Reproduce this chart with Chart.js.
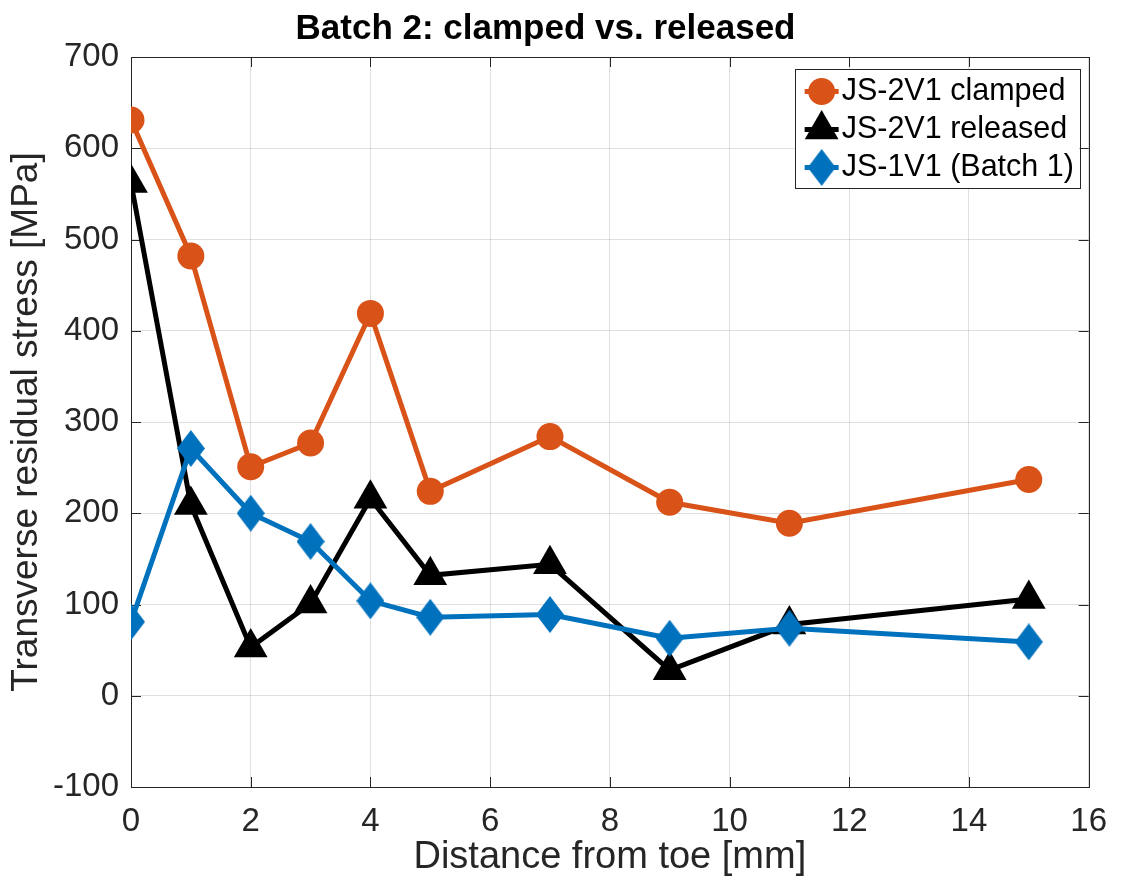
<!DOCTYPE html>
<html>
<head>
<meta charset="utf-8">
<script src="https://cdn.jsdelivr.net/npm/chart.js@4.4.0/dist/chart.umd.min.js"></script>
<style>
    html, body { margin: 0; padding: 0; background: #fff; }
    #wrap { width: 1122px; height: 883px; position: relative; }
</style>
</head>
<body>
<div id="wrap"><canvas id="myChart"></canvas></div>
<script>
// valeurs
const distances = [0, 1, 2, 3, 4, 5, 7, 9, 11, 15];
const clamped = [631, 482, 251, 277, 419, 224, 284, 212, 189, 237];
const released = [562, 209, 53, 101, 216, 132, 144, 28, 78, 106];
const batch1 = [81, 271, 200, 169, 104, 86, 89, 63, 74, 59];
const seriesLabels = ['JS-2V1 clamped', 'JS-2V1 released', 'JS-1V1 (Batch 1)'];
const xTicks = [0, 2, 4, 6, 8, 10, 12, 14, 16];
const yTicks = [-100, 0, 100, 200, 300, 400, 500, 600, 700];

const ORANGE = '#D95319';
const BLACK = '#000000';
const BLUE = '#0072BD';
const AXIS = '#262626';
const FONT = "'Liberation Sans', Arial, sans-serif";

// losange plus haut que large, comme celui de matlab
function makeDiamond(w, h, color) {
    const c = document.createElement('canvas');
    c.width = w;
    c.height = h;
    const g = c.getContext('2d');
    g.fillStyle = color;
    g.beginPath();
    g.moveTo(w / 2, 0);
    g.lineTo(w, h / 2);
    g.lineTo(w / 2, h);
    g.lineTo(0, h / 2);
    g.closePath();
    g.fill();
    return c;
}
const diamond = makeDiamond(28, 37, BLUE);

const toPoints = ys => ys.map((y, i) => ({x: distances[i], y: y}));

// cadre + petites graduations vers l'intérieur
const framePlugin = {
    id: 'frame',
    beforeDatasetsDraw(chart) {
        const {ctx, chartArea: a, scales} = chart;
        ctx.save();
        ctx.strokeStyle = AXIS;
        ctx.lineWidth = 1;
        ctx.strokeRect(Math.round(a.left) + 0.5, Math.round(a.top) + 0.5,
            Math.round(a.right - a.left), Math.round(a.bottom - a.top));
        ctx.beginPath();
        xTicks.forEach(v => {
            const px = Math.round(scales.x.getPixelForValue(v)) + 0.5;
            ctx.moveTo(px, a.bottom); ctx.lineTo(px, a.bottom - 10);
            ctx.moveTo(px, a.top); ctx.lineTo(px, a.top + 10);
        });
        yTicks.forEach(v => {
            const py = Math.round(scales.y.getPixelForValue(v)) + 0.5;
            ctx.moveTo(a.left, py); ctx.lineTo(a.left + 10, py);
            ctx.moveTo(a.right, py); ctx.lineTo(a.right - 10, py);
        });
        ctx.stroke();
        ctx.restore();
    }
};

// légende dans le coin haut droit, avec trait + marqueur
const legendPlugin = {
    id: 'matlabLegend',
    afterDraw(chart) {
        const {ctx, chartArea: a} = chart;
        const boxW = 285, boxH = 119;
        const bx = a.right - 9 - boxW;
        const by = a.top + 12;
        ctx.save();
        ctx.fillStyle = '#fff';
        ctx.fillRect(bx, by, boxW, boxH);
        ctx.strokeStyle = AXIS;
        ctx.lineWidth = 1;
        ctx.strokeRect(Math.round(bx) + 0.5, Math.round(by) + 0.5, boxW, boxH);

        const order = [2, 1, 0]; // datasets : batch1, released, clamped
        order.forEach((di, row) => {
            const ds = chart.data.datasets[di];
            const cy = by + 22.5 + row * 38;
            const mx = bx + 27;
            ctx.strokeStyle = ds.borderColor;
            ctx.lineWidth = 5;
            ctx.beginPath();
            ctx.moveTo(bx + 10, cy);
            ctx.lineTo(bx + 44, cy);
            ctx.stroke();
            ctx.fillStyle = ds.borderColor;
            if (ds.pointStyle === 'circle') {
                ctx.beginPath();
                ctx.arc(mx, cy, 13.5, 0, Math.PI * 2);
                ctx.fill();
            } else if (ds.pointStyle === 'triangle') {
                const r = ds.pointRadius;
                ctx.beginPath();
                ctx.moveTo(mx, cy - r);
                ctx.lineTo(mx + r * Math.sin(2 * Math.PI / 3), cy + r / 2);
                ctx.lineTo(mx - r * Math.sin(2 * Math.PI / 3), cy + r / 2);
                ctx.closePath();
                ctx.fill();
            } else {
                ctx.drawImage(ds.pointStyle, mx - ds.pointStyle.width / 2, cy - ds.pointStyle.height / 2);
            }
            ctx.fillStyle = '#000';
            ctx.font = '30.5px ' + FONT;
            ctx.textBaseline = 'middle';
            ctx.textAlign = 'left';
            ctx.fillText(ds.label, bx + 47, cy);
        });
        ctx.restore();
    }
};

const data = {
    datasets: [
        {
            label: seriesLabels[2],
            data: toPoints(batch1),
            borderColor: BLUE,
            backgroundColor: BLUE,
            borderWidth: 5,
            pointStyle: diamond,
            pointRadius: 14,
            order: 0
        },
        {
            label: seriesLabels[1],
            data: toPoints(released),
            borderColor: BLACK,
            backgroundColor: BLACK,
            borderWidth: 5,
            pointStyle: 'triangle',
            pointRadius: 19.5,
            pointBorderWidth: 0,
            order: 1
        },
        {
            label: seriesLabels[0],
            data: toPoints(clamped),
            borderColor: ORANGE,
            backgroundColor: ORANGE,
            borderWidth: 5,
            pointStyle: 'circle',
            pointRadius: 13.5,
            pointBorderWidth: 0,
            order: 2
        }
    ]
};

const config = {
    type: 'line',
    data,
    options: {
        responsive: true,
        maintainAspectRatio: false,
        animation: false,
        layout: { padding: { left: 0, right: 31, top: 0, bottom: 0 } },
        plugins: {
            legend: { display: false },
            tooltip: { enabled: false },
            title: {
                display: true,
                text: 'Batch 2: clamped vs. released',
                color: '#000',
                font: { family: FONT, size: 35, weight: 'bold', lineHeight: 1.2 },
                padding: { top: 8, bottom: 7 }
            }
        },
        scales: {
            x: {
                type: 'linear',
                min: 0,
                max: 16,
                afterBuildTicks: axis => { axis.ticks = xTicks.map(v => ({value: v})); },
                afterFit: scale => { scale.height = 96; },
                grid: { color: 'rgba(38,38,38,0.15)', drawTicks: false },
                border: { display: false },
                ticks: { color: AXIS, padding: 15, maxRotation: 0, font: { family: FONT, size: 33 } },
                title: {
                    display: true,
                    text: 'Distance from toe [mm]',
                    color: AXIS,
                    font: { family: FONT, size: 38, lineHeight: 1.2 },
                    padding: { top: 0, bottom: 3 }
                }
            },
            y: {
                min: -100,
                max: 700,
                afterBuildTicks: axis => { axis.ticks = yTicks.map(v => ({value: v})); },
                afterFit: scale => { scale.width = 131; },
                grid: { color: 'rgba(38,38,38,0.15)', drawTicks: false },
                border: { display: false },
                ticks: { color: AXIS, padding: 12, font: { family: FONT, size: 33 } },
                title: {
                    display: true,
                    text: 'Transverse residual stress [MPa]',
                    color: AXIS,
                    font: { family: FONT, size: 37, lineHeight: 1.2 },
                    padding: { top: 5, bottom: 0 }
                }
            }
        }
    },
    plugins: [framePlugin, legendPlugin]
};

const mychart = new Chart(document.getElementById('myChart'), config);
</script>
</body>
</html>
